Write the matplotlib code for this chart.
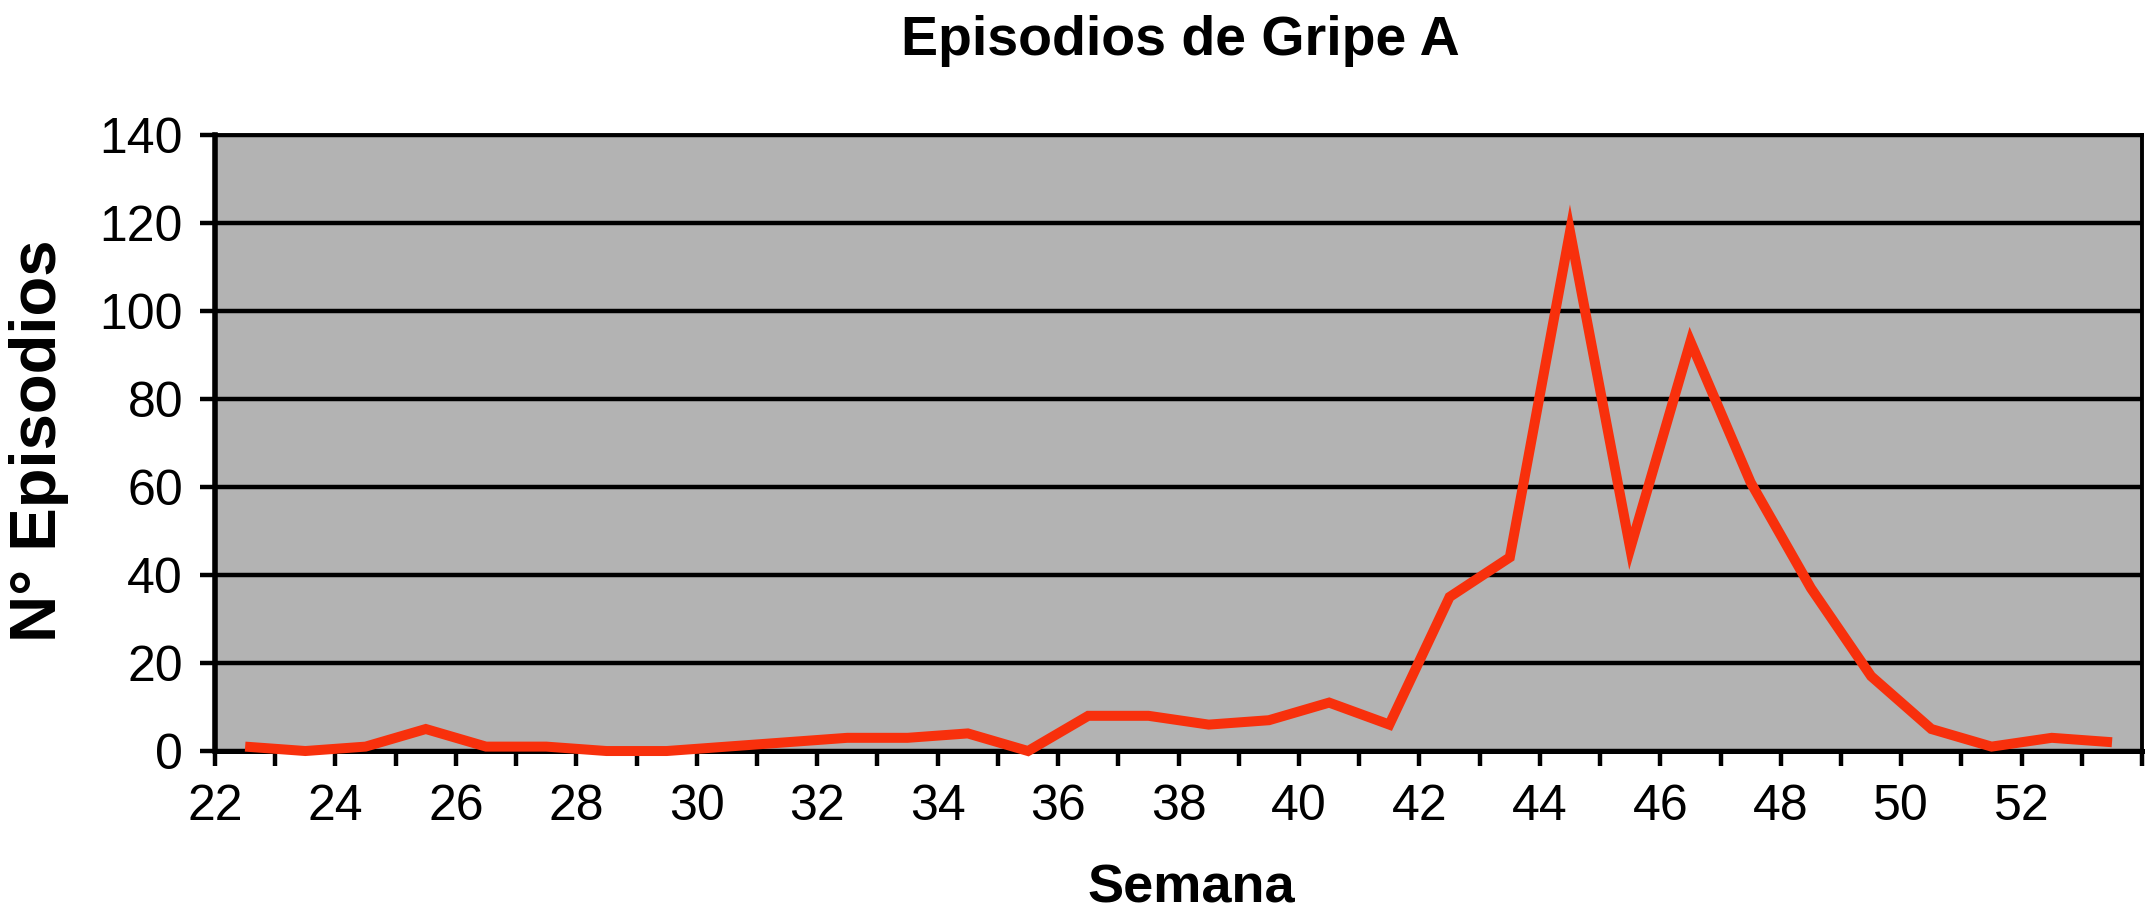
"""
Episodios de Gripe A por semana -- line chart, Excel-style grey plot area.
Writes out.png (2146x917).
"""

import numpy as np
import matplotlib
matplotlib.use("Agg")
import matplotlib.pyplot as plt
from matplotlib.ticker import MultipleLocator, FixedLocator


# weekly counts
semanas = list(range(22, 54))
episodios = [1, 0, 1, 5, 1, 1, 0, 0, 1, 2, 3, 3, 4, 0, 8, 8,
             6, 7, 11, 6, 35, 44, 118, 46, 93, 61, 37, 17, 5, 1, 3, 2]

xtick_vals = list(range(22, 53, 2))
ytick_vals = list(range(0, 141, 20))

TITLE = "Episodios de Gripe A"
XLABEL = "Semana"
YLABEL = "N° Episodios"

BG_GREY = "#B3B3B3"
LINE_RED = "#F8300C"

plt.rcParams["font.family"] = ["Liberation Sans", "DejaVu Sans"]


def main():
    fig = plt.figure(figsize=(21.46, 9.17), dpi=100)
    ax = fig.add_axes([0.1002, 0.181, 0.898, 0.672])
    ax.set_facecolor(BG_GREY)

    # categories sit between tick marks, Excel style
    x = np.array(semanas) + 0.5
    ax.plot(x, episodios, color=LINE_RED, linewidth=7.2,
            solid_joinstyle="miter", solid_capstyle="butt",
            zorder=4, clip_on=False)

    ax.set_xlim(22, 54)
    ax.set_ylim(0, 140)

    ax.xaxis.set_major_locator(FixedLocator(xtick_vals))
    ax.xaxis.set_minor_locator(MultipleLocator(1))
    ax.set_xticks(xtick_vals)
    ax.set_xticklabels([str(v) for v in xtick_vals])
    ax.set_yticks(ytick_vals)
    ax.set_yticklabels([str(v) for v in ytick_vals])

    ax.yaxis.grid(True, color="black", linewidth=3.2)
    ax.set_axisbelow(True)

    ax.tick_params(axis="x", which="both", direction="out", length=11,
                   width=3.2, color="black")
    ax.tick_params(axis="x", which="major", labelsize=36, pad=13)
    ax.tick_params(axis="y", which="major", direction="out", length=11,
                   width=3.2, color="black", labelsize=36, pad=12)

    ax.spines["left"].set_linewidth(4.0)
    ax.spines["bottom"].set_linewidth(3.6)
    ax.spines["top"].set_linewidth(2.8)
    ax.spines["right"].set_linewidth(2.8)
    for s in ax.spines.values():
        s.set_color("black")
        s.set_zorder(3)

    fig.text(0.55, 0.940, TITLE, ha="center", va="baseline",
             fontsize=40, fontweight="bold")
    fig.text(0.555, 0.0153, XLABEL, ha="center", va="baseline",
             fontsize=39, fontweight="bold")
    fig.text(0.018, 0.519, YLABEL, ha="center", va="center",
             fontsize=47, fontweight="bold", rotation=90)

    fig.savefig("out.png", dpi=100, facecolor="white")


if __name__ == "__main__":
    main()
